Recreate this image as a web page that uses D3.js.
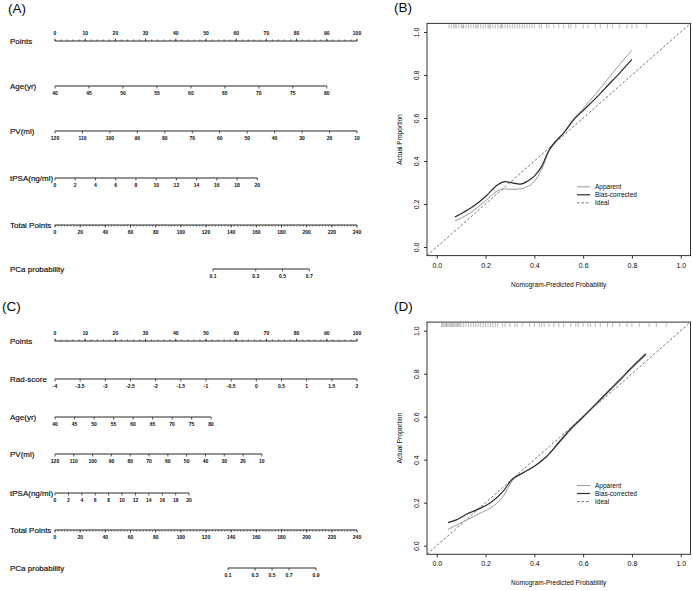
<!DOCTYPE html>
<html>
<head>
<meta charset="utf-8">
<script src="https://cdn.jsdelivr.net/npm/d3@7/dist/d3.min.js"></script>
<style>
  body { margin: 0; background: #fff; }
  text { font-family: "Liberation Sans", Arial, sans-serif; fill: #0a0a0a; }
</style>
</head>
<body>
<div id="chart"></div>
<script>
// ---- nomogram (A) ----
const pointsTicks = [0, 10, 20, 30, 40, 50, 60, 70, 80, 90, 100];
const totalTicks = [0, 20, 40, 60, 80, 100, 120, 140, 160, 180, 200, 220, 240];
const ageTicksA = [40, 45, 50, 55, 60, 65, 70, 75, 80];
const ageMaxPtsA = 90;
const pvTicksA = [120, 110, 100, 90, 80, 70, 60, 50, 40, 30, 20, 10];
const pvMaxPtsA = 100;
const tpsaTicksA = [0, 2, 4, 6, 8, 10, 12, 14, 16, 18, 20];
const tpsaMaxPtsA = 67;
const probTicksA = [0.1, 0.3, 0.5, 0.7];
const probMidA = 180.8;     // total points where probability = 0.5
const probSlopeA = 0.0398;  // logit per total point

// ---- nomogram (C) ----
const radTicksC = [-4, -3.5, -3, -2.5, -2, -1.5, -1, -0.5, 0, 0.5, 1, 1.5, 2];
const radMaxPtsC = 100;
const ageTicksC = [40, 45, 50, 55, 60, 65, 70, 75, 80];
const ageMaxPtsC = 51.7;
const pvTicksC = [120, 110, 100, 90, 80, 70, 60, 50, 40, 30, 20, 10];
const pvMaxPtsC = 68.5;
const tpsaTicksC = [0, 2, 4, 6, 8, 10, 12, 14, 16, 18, 20];
const tpsaMaxPtsC = 44.4;
const probTicksC = [0.1, 0.3, 0.5, 0.7, 0.9];
const probMidC = 172.5;
const probSlopeC = 0.0628;

// ---- calibration (B) ----
const calX_B = [0.075, 0.10, 0.15, 0.20, 0.25, 0.28, 0.31, 0.34, 0.37, 0.40, 0.43, 0.46, 0.49, 0.52, 0.56, 0.60, 0.65, 0.70, 0.75, 0.80];
const apparentB = [0.121, 0.135, 0.168, 0.215, 0.262, 0.27, 0.268, 0.27, 0.28, 0.305, 0.36, 0.445, 0.49, 0.53, 0.595, 0.645, 0.71, 0.78, 0.85, 0.915];
const biasB = [0.140, 0.155, 0.189, 0.235, 0.29, 0.304, 0.298, 0.292, 0.305, 0.33, 0.375, 0.45, 0.495, 0.53, 0.59, 0.635, 0.69, 0.75, 0.81, 0.873];
const rugB = [0.05, 0.06, 0.07, 0.075, 0.08, 0.09, 0.10, 0.105, 0.11, 0.12, 0.13, 0.14, 0.15, 0.16, 0.165, 0.17, 0.18, 0.19, 0.20,
  0.21, 0.215, 0.22, 0.23, 0.24, 0.25, 0.26, 0.265, 0.27, 0.28, 0.29, 0.30, 0.31, 0.32, 0.33, 0.34, 0.35, 0.36, 0.37, 0.38,
  0.39, 0.40, 0.42, 0.43, 0.45, 0.46, 0.48, 0.50, 0.52, 0.54, 0.55, 0.57, 0.60, 0.62, 0.65, 0.67, 0.70, 0.72, 0.75, 0.78, 0.80, 0.82, 0.86];

// ---- calibration (D) ----
const calX_D = [0.046, 0.08, 0.12, 0.17, 0.22, 0.27, 0.31, 0.35, 0.40, 0.45, 0.50, 0.55, 0.60, 0.65, 0.70, 0.75, 0.80, 0.857];
const apparentD = [0.076, 0.095, 0.118, 0.147, 0.176, 0.225, 0.303, 0.335, 0.37, 0.413, 0.475, 0.54, 0.595, 0.652, 0.71, 0.765, 0.825, 0.885];
const biasD = [0.107, 0.12, 0.145, 0.17, 0.20, 0.25, 0.31, 0.337, 0.37, 0.415, 0.48, 0.545, 0.60, 0.657, 0.715, 0.772, 0.83, 0.893];
const rugD = [0.02, 0.025, 0.03, 0.035, 0.04, 0.045, 0.05, 0.055, 0.06, 0.065, 0.07, 0.075, 0.08, 0.085, 0.09, 0.095, 0.10,
  0.11, 0.12, 0.13, 0.14, 0.15, 0.16, 0.17, 0.18, 0.19, 0.20, 0.21, 0.22, 0.23, 0.24, 0.25, 0.27, 0.28, 0.30, 0.32, 0.33,
  0.35, 0.38, 0.40, 0.42, 0.43, 0.44, 0.46, 0.48, 0.50, 0.52, 0.55, 0.57, 0.58, 0.60, 0.62, 0.63, 0.65, 0.67, 0.70, 0.72,
  0.75, 0.78, 0.80, 0.83, 0.87, 0.90, 0.94];

const calTicks = [0, 0.2, 0.4, 0.6, 0.8, 1.0];
const legendLabels = ["Apparent", "Bias-corrected", "Ideal"];

const svg = d3.select("#chart").append("svg")
  .attr("width", 692)
  .attr("height", 591);

const ptsX = d3.scaleLinear().domain([0, 100]).range([55, 357]);
const totX = d3.scaleLinear().domain([0, 240]).range([55, 357]);
const logit = p => Math.log(p / (1 - p));

function nomoRow(y, label, ticks, pos, opts = {}) {
  const g = svg.append("g");
  const up = opts.up || false;
  const dir = up ? -1 : 1;
  g.append("text")
    .attr("x", 10).attr("y", y + 3)
    .attr("font-size", 8)
    .attr("stroke", "#0a0a0a").attr("stroke-width", 0.15)
    .text(label);
  const x0 = pos(ticks[0]), x1 = pos(ticks[ticks.length - 1]);
  g.append("line")
    .attr("x1", x0).attr("x2", x1)
    .attr("y1", y).attr("y2", y)
    .attr("stroke", "#111").attr("stroke-width", 0.9);
  if (opts.minor) {
    g.selectAll(".minor").data(opts.minor).enter().append("line")
      .attr("x1", d => pos(d)).attr("x2", d => pos(d))
      .attr("y1", y).attr("y2", y + dir * 1.6)
      .attr("stroke", "#222").attr("stroke-width", 0.6);
  }
  g.selectAll(".major").data(ticks).enter().append("line")
    .attr("x1", d => pos(d)).attr("x2", d => pos(d))
    .attr("y1", y).attr("y2", y + dir * 2.5)
    .attr("stroke", "#111").attr("stroke-width", 0.7);
  g.selectAll(".lab").data(ticks).enter().append("text")
    .attr("x", d => pos(d))
    .attr("y", up ? y - 6 : y + 9)
    .attr("text-anchor", "middle")
    .attr("font-size", 5)
    .attr("font-weight", "bold")
    .text(d => String(d));
}

function varPos(ticks, maxPts) {
  const s = d3.scaleLinear().domain([ticks[0], ticks[ticks.length - 1]]).range([0, maxPts]);
  return v => ptsX(s(v));
}

function probPos(mid, slope) {
  return p => totX(mid + logit(p) / slope);
}

const pointsMinor = d3.range(0, 101, 2);
const totalMinor = d3.range(0, 241, 2.5);

// (A)
svg.append("text").attr("x", 8).attr("y", 13).attr("font-size", 13.5).text("(A)");
nomoRow(41, "Points", pointsTicks, ptsX, { up: true, minor: pointsMinor });
nomoRow(86, "Age(yr)", ageTicksA, varPos(ageTicksA, ageMaxPtsA));
nomoRow(131, "PV(ml)", pvTicksA, varPos(pvTicksA, pvMaxPtsA));
nomoRow(178, "tPSA(ng/ml)", tpsaTicksA, varPos(tpsaTicksA, tpsaMaxPtsA));
nomoRow(225, "Total Points", totalTicks, totX, { minor: totalMinor });
nomoRow(269, "PCa probability", probTicksA, probPos(probMidA, probSlopeA));

// (C)
svg.append("text").attr("x", 2).attr("y", 311).attr("font-size", 13.5).text("(C)");
nomoRow(341, "Points", pointsTicks, ptsX, { up: true, minor: pointsMinor });
nomoRow(379, "Rad-score", radTicksC, varPos(radTicksC, radMaxPtsC));
nomoRow(417, "Age(yr)", ageTicksC, varPos(ageTicksC, ageMaxPtsC));
nomoRow(454, "PV(ml)", pvTicksC, varPos(pvTicksC, pvMaxPtsC));
nomoRow(493, "tPSA(ng/ml)", tpsaTicksC, varPos(tpsaTicksC, tpsaMaxPtsC));
nomoRow(530, "Total Points", totalTicks, totX, { minor: totalMinor });
nomoRow(568, "PCa probability", probTicksC, probPos(probMidC, probSlopeC));

function calibration(top, bottom, tag, xs, apparent, bias, rug) {
  const g = svg.append("g");
  const x = d3.scaleLinear().domain([-0.04, 1.04]).range([427, 690.5]);
  const y = d3.scaleLinear().domain([-0.04, 1.04]).range([bottom, top]);

  g.append("text").attr("x", 394).attr("y", top - 11).attr("font-size", 13.5).text(tag);

  // ideal
  g.append("line")
    .attr("x1", x(-0.04)).attr("y1", y(-0.04))
    .attr("x2", x(1.04)).attr("y2", y(1.04))
    .attr("stroke", "#333").attr("stroke-width", 0.7)
    .attr("stroke-dasharray", "2.5,2");

  const line = d3.line().curve(d3.curveMonotoneX);
  g.append("path")
    .attr("d", line(xs.map((v, i) => [x(v), y(apparent[i])])))
    .attr("fill", "none").attr("stroke", "#9a9a9a").attr("stroke-width", 1);
  g.append("path")
    .attr("d", line(xs.map((v, i) => [x(v), y(bias[i])])))
    .attr("fill", "none").attr("stroke", "#2b2b2b").attr("stroke-width", 1.2);

  // rug along the top
  g.selectAll(".rug").data(rug).enter().append("line")
    .attr("x1", d => x(d)).attr("x2", d => x(d))
    .attr("y1", top + 1).attr("y2", top + 5)
    .attr("stroke", "#8a8a8a").attr("stroke-width", 0.6);

  g.append("rect")
    .attr("x", x(-0.04)).attr("y", top)
    .attr("width", x(1.04) - x(-0.04)).attr("height", bottom - top)
    .attr("fill", "none").attr("stroke", "#333").attr("stroke-width", 1);

  const xAxis = g.append("g")
    .attr("transform", `translate(0,${bottom})`)
    .call(d3.axisBottom(x).tickValues(calTicks).tickFormat(d3.format(".1f")).tickSize(3).tickPadding(4));
  xAxis.select(".domain").remove();
  xAxis.selectAll("text").attr("font-size", 7).attr("font-family", null);
  xAxis.selectAll("line").attr("stroke", "#333");

  const yAxis = g.append("g")
    .attr("transform", `translate(427,0)`)
    .call(d3.axisLeft(y).tickValues(calTicks).tickFormat(d3.format(".1f")).tickSize(3));
  yAxis.select(".domain").remove();
  yAxis.selectAll("line").attr("stroke", "#333");
  yAxis.selectAll("text")
    .attr("font-size", 7).attr("font-family", null)
    .attr("x", null).attr("dy", null)
    .attr("text-anchor", "middle")
    .attr("transform", "translate(-8,0) rotate(-90)");

  g.append("text")
    .attr("x", (x(-0.04) + x(1.04)) / 2)
    .attr("y", bottom + 31)
    .attr("text-anchor", "middle")
    .attr("font-size", 6.6)
    .text("Nomogram-Predicted Probability");

  g.append("text")
    .attr("transform", `translate(401.5,${(top + bottom) / 2}) rotate(-90)`)
    .attr("text-anchor", "middle")
    .attr("font-size", 6.6)
    .text("Actual Proportion");

  // legend
  const legY = y(0.28);
  const styles = [
    { stroke: "#9a9a9a", w: 1, dash: null },
    { stroke: "#2b2b2b", w: 1.2, dash: null },
    { stroke: "#333", w: 0.7, dash: "2.5,2" }
  ];
  legendLabels.forEach((lab, i) => {
    const yy = legY + i * 8;
    g.append("line")
      .attr("x1", 577).attr("x2", 590)
      .attr("y1", yy).attr("y2", yy)
      .attr("stroke", styles[i].stroke).attr("stroke-width", styles[i].w)
      .attr("stroke-dasharray", styles[i].dash);
    g.append("text")
      .attr("x", 595).attr("y", yy + 2.3)
      .attr("font-size", 6.5)
      .text(lab);
  });
}

calibration(23.4, 255.6, "(B)", calX_B, apparentB, biasB, rugB);
calibration(322.1, 554.3, "(D)", calX_D, apparentD, biasD, rugD);
</script>
</body>
</html>
